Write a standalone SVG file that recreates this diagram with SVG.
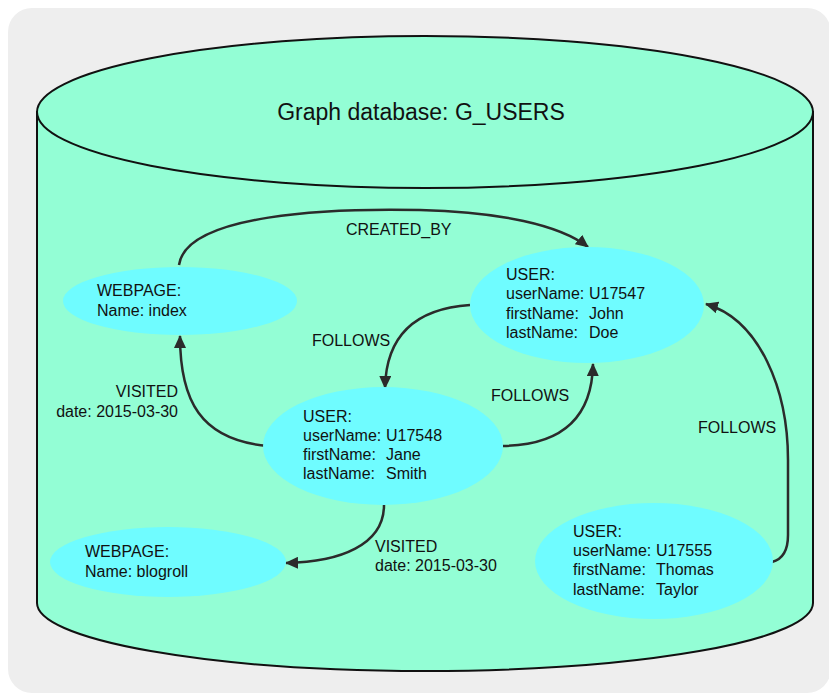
<svg xmlns="http://www.w3.org/2000/svg" width="829" height="695" viewBox="0 0 829 695">
<defs>
<style>
text{font-family:"Liberation Sans",Arial,sans-serif;font-size:16px;fill:#111}
.node{fill:#6ffcff}
.edge{fill:none;stroke:#2b2b2b;stroke-width:2.5}
.cyl{fill:#93fed5;stroke:#111;stroke-width:2}
</style>
<marker id="ah" markerUnits="userSpaceOnUse" markerWidth="14" markerHeight="12" refX="12" refY="6" orient="auto">
<path d="M0,0 L13,6 L0,12 Z" fill="#2b2b2b"/>
</marker>
</defs>
<rect width="829" height="695" fill="#fff"/>
<rect x="8" y="8" width="823" height="685" rx="24" fill="#eeeeee"/>
<g id="cylinder">
<path class="cyl" d="M37,112 L37,603 A388,68 0 0 0 813,603 L813,112 Z"/>
<ellipse class="cyl" cx="425" cy="112" rx="388" ry="76"/>
<text x="421" y="120" text-anchor="middle" style="font-size:23px">Graph database: G_USERS</text>
</g>
<g id="connectors">
<path class="edge" marker-end="url(#ah)" d="M179,265 C186,214 330,208 420,210 C500,212 560,225 588,247"/>
<path class="edge" marker-end="url(#ah)" d="M470,305 C410,309 386,340 385,388"/>
<path class="edge" marker-end="url(#ah)" d="M503,446 C560,445 592,420 593,364"/>
<path class="edge" marker-end="url(#ah)" d="M268,446 C200,440 180,400 180,336"/>
<path class="edge" marker-end="url(#ah)" d="M384,505 C384,545 340,562 286,563"/>
<path class="edge" marker-end="url(#ah)" d="M772,562 Q788,558 788,535 L788,460 C788,390 760,320 706,304"/>
<text x="346" y="235">CREATED_BY</text>
<text x="312" y="346">FOLLOWS</text>
<text x="178" y="397" text-anchor="end">VISITED</text>
<text x="178" y="417" text-anchor="end">date: 2015-03-30</text>
<text x="491" y="401">FOLLOWS</text>
<text x="698" y="433">FOLLOWS</text>
<text x="375" y="552">VISITED</text>
<text x="375" y="571">date: 2015-03-30</text>
</g>
<g id="webpage-index">
<ellipse class="node" cx="180" cy="301" rx="117" ry="34"/>
<text x="97" y="296">WEBPAGE:</text>
<text x="97" y="316">Name: index</text>
</g>
<g id="user-john">
<ellipse class="node" cx="587" cy="305" rx="117" ry="58"/>
<text x="506" y="280">USER:</text>
<text x="506" y="299">userName: <tspan x="589">U17547</tspan></text>
<text x="506" y="319">firstName: <tspan x="589">John</tspan></text>
<text x="506" y="338">lastName: <tspan x="589">Doe</tspan></text>
</g>
<g id="user-jane">
<ellipse class="node" cx="383" cy="446" rx="120" ry="59"/>
<text x="303" y="422">USER:</text>
<text x="303" y="441">userName: <tspan x="386">U17548</tspan></text>
<text x="303" y="460">firstName: <tspan x="386">Jane</tspan></text>
<text x="303" y="479">lastName: <tspan x="386">Smith</tspan></text>
</g>
<g id="webpage-blogroll">
<ellipse class="node" cx="168" cy="562" rx="118" ry="35"/>
<text x="85" y="557">WEBPAGE:</text>
<text x="85" y="577">Name: blogroll</text>
</g>
<g id="user-thomas">
<ellipse class="node" cx="654" cy="561" rx="119" ry="58"/>
<text x="573" y="537">USER:</text>
<text x="573" y="556">userName: <tspan x="656">U17555</tspan></text>
<text x="573" y="575">firstName: <tspan x="656">Thomas</tspan></text>
<text x="573" y="595">lastName: <tspan x="656">Taylor</tspan></text>
</g>
</svg>
